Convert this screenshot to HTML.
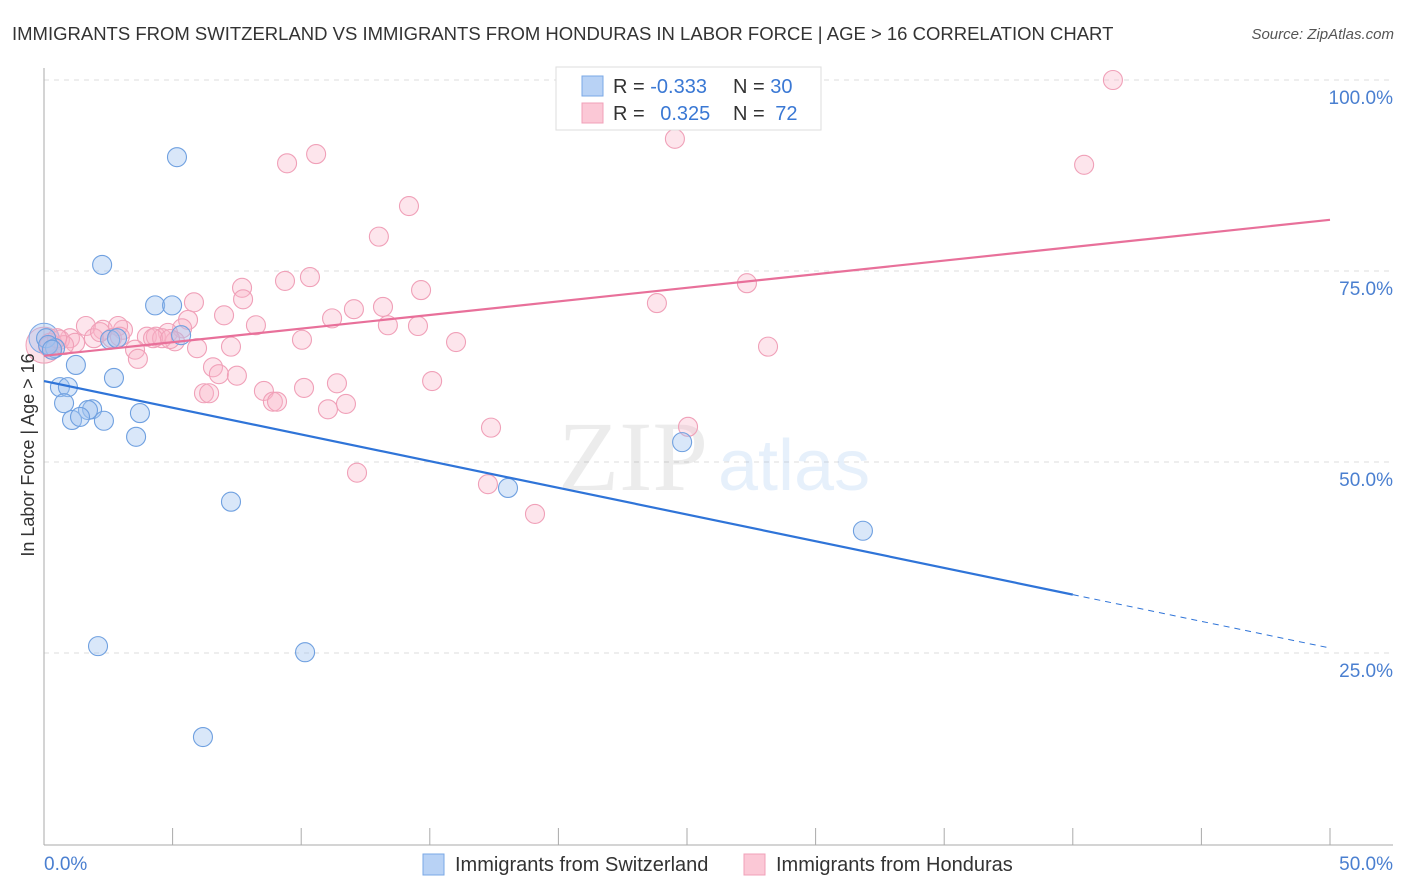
<!DOCTYPE html>
<html><head><meta charset="utf-8"><style>
body{margin:0;background:#fff;font-family:"Liberation Sans",sans-serif}
svg{display:block}
</style></head><body>
<svg id="c" width="1406" height="892" xmlns="http://www.w3.org/2000/svg">
<text x="12" y="40" font-size="18.5" fill="#333">IMMIGRANTS FROM SWITZERLAND VS IMMIGRANTS FROM HONDURAS IN LABOR FORCE | AGE &gt; 16 CORRELATION CHART</text>
<text x="1394" y="39" font-size="15" fill="#555" font-style="italic" text-anchor="end">Source: ZipAtlas.com</text>
<g id="grid"></g>
<text x="558" y="490" font-size="100" fill="#000" opacity="0.07" font-family="Liberation Serif,serif">ZIP</text>
<text x="718" y="490" font-size="72" fill="#4a90e2" opacity="0.13">atlas</text>
<g id="pts"></g>
<g id="lines"></g>
<text transform="translate(34,455) rotate(-90)" font-size="18" fill="#333" text-anchor="middle">In Labor Force | Age &gt; 16</text>
<text x="44" y="870" font-size="19" fill="#4a7fd0">0.0%</text>
<text x="1393" y="870" font-size="19" fill="#4a7fd0" text-anchor="end">50.0%</text>
<g>
<rect x="556" y="67" width="265" height="63" fill="#fff" stroke="#ddd"/>
<rect x="582" y="76" width="21" height="20" fill="#b8d2f5" stroke="#7aa8e6"/>
<rect x="582" y="103" width="21" height="20" fill="#fbc8d6" stroke="#f0a0b8"/>
<text x="613" y="93" font-size="20" fill="#333">R = <tspan fill="#3a78d4">-0.333</tspan></text>
<text x="733" y="93" font-size="20" fill="#333">N = <tspan fill="#3a78d4">30</tspan></text>
<text x="613" y="120" font-size="20" fill="#333">R = <tspan fill="#3a78d4" dx="10">0.325</tspan></text>
<text x="733" y="120" font-size="20" fill="#333">N = <tspan fill="#3a78d4" dx="5">72</tspan></text>
</g>
<g>
<rect x="423" y="854" width="21" height="21" fill="#b8d2f5" stroke="#7aa8e6"/>
<text x="455" y="871" font-size="20" fill="#333">Immigrants from Switzerland</text>
<rect x="744" y="854" width="21" height="21" fill="#fbc8d6" stroke="#f0a0b8"/>
<text x="776" y="871" font-size="20" fill="#333">Immigrants from Honduras</text>
</g>
</svg>
<script>
const blueX=[5.17,2.26,4.32,4.98,2.57,5.33,0.08,0.43,1.24,2.72,0.62,0.93,0.78,1.87,1.71,3.73,1.09,2.33,1.40,3.58,7.27,18.04,24.81,31.84,2.10,10.15,6.18,0.16,2.84,0.31];
const blueY=[89.9,75.8,70.5,70.5,66.0,66.6,66.2,64.9,62.7,61.0,59.8,59.8,57.7,56.9,56.8,56.4,55.5,55.4,55.9,53.3,44.8,46.6,52.6,41.0,25.9,25.1,14.0,65.3,66.2,64.7];
const pinkX=[41.56,24.53,10.58,9.45,40.44,14.19,13.02,10.34,9.37,7.70,7.74,5.83,14.66,23.83,27.33,12.05,13.18,7.00,5.60,11.20,8.24,14.54,13.37,5.37,1.63,2.29,3.07,2.88,4.00,4.82,4.35,5.09,10.03,16.02,7.27,5.95,3.54,3.65,28.15,2.64,1.94,1.01,0.62,0.23,0.31,6.57,6.80,7.50,15.09,11.39,10.11,8.55,6.22,6.42,8.90,9.06,11.74,11.04,17.38,25.04,12.17,17.26,19.09,0.16,1.21,4.59,2.95,4.24,0.78,2.18,4.90,0.51];
const pinkY=[100.0,92.3,90.3,89.1,88.9,83.5,79.5,74.2,73.7,72.8,71.3,70.9,72.5,70.8,73.4,70.0,70.3,69.2,68.6,68.8,67.9,67.8,67.9,67.5,67.8,67.3,67.3,67.8,66.4,66.9,66.4,65.8,66.0,65.7,65.1,64.9,64.7,63.5,65.1,66.2,66.2,66.2,66.0,65.6,64.7,62.4,61.5,61.3,60.6,60.3,59.7,59.3,59.0,59.0,57.9,57.9,57.6,56.9,54.5,54.6,48.6,47.1,43.2,65.1,65.6,66.2,66.4,66.2,65.3,67.0,66.1,66.2];
const yTicks=[25,50,75,100];
const yTickLabels=["25.0%","50.0%","75.0%","100.0%"];
const xTicks=[0,5,10,15,20,25,30,35,40,45,50];
const blueTrend=[60.6,25.65];const blueSolidEnd=40.0;
const pinkTrend=[63.9,81.7];
const NS="http://www.w3.org/2000/svg";
const sx=v=>44+v*25.72, sy=v=>844-v*7.64;
function mk(t,a,p){const e=document.createElementNS(NS,t);for(const k in a)e.setAttribute(k,a[k]);p.appendChild(e);return e;}
const g=document.getElementById('grid');
yTicks.forEach((t,i)=>{
 const l=mk('line',{x1:44,x2:1393,y1:sy(t),y2:sy(t),stroke:'#ddd','stroke-dasharray':'5,5'},g);
 
 
 const tx=mk('text',{x:1393,y:sy(t)+24,'font-size':19,fill:'#4a7fd0','text-anchor':'end'},g);
 tx.textContent=yTickLabels[i];
 
 
});
const ax=mk('line',{x1:44,x2:1393,y1:845,y2:845,stroke:'#aaa'},g);


const ay=mk('line',{x1:44,x2:44,y1:68,y2:845,stroke:'#aaa'},g);


xTicks.forEach(t=>{
 const l=mk('line',{x1:sx(t),x2:sx(t),y1:828,y2:845,stroke:'#aaa'},g);
 
 
});
const p=document.getElementById('pts');
const big1=mk('circle',{cx:sx(0),cy:sy(65.3),r:18,fill:'rgba(248,180,200,0.4)',stroke:'#f0a0b8'},p);


const big2=mk('circle',{cx:sx(0),cy:sy(66.2),r:15,fill:'rgba(160,196,240,0.4)',stroke:'#7aa8e6'},p);


pinkX.forEach((x,i)=>{
 const c=mk('circle',{cx:sx(x),cy:sy(pinkY[i]),r:9.5,fill:'rgba(248,180,200,0.35)',stroke:'#f0a0b8','stroke-width':1.1},p);
 
 
});
blueX.forEach((x,i)=>{
 const c=mk('circle',{cx:sx(x),cy:sy(blueY[i]),r:9.5,fill:'rgba(160,196,240,0.4)',stroke:'#6fa0e0','stroke-width':1.1},p);
 
 
});
const L=document.getElementById('lines');
const by=x=>blueTrend[0]+(blueTrend[1]-blueTrend[0])*x/50;
const b1=mk('line',{x1:sx(0),y1:sy(by(0)),x2:sx(blueSolidEnd),y2:sy(by(blueSolidEnd)),stroke:'#2f74d8','stroke-width':2.2},L);


const b2=mk('line',{x1:sx(blueSolidEnd),y1:sy(by(blueSolidEnd)),x2:sx(50),y2:sy(by(50)),stroke:'#2f74d8','stroke-width':1,'stroke-dasharray':'6,5'},L);


const p1=mk('line',{x1:sx(0),y1:sy(pinkTrend[0]),x2:sx(50),y2:sy(pinkTrend[1]),stroke:'#e8709a','stroke-width':2.2},L);


</script>
</body></html>
